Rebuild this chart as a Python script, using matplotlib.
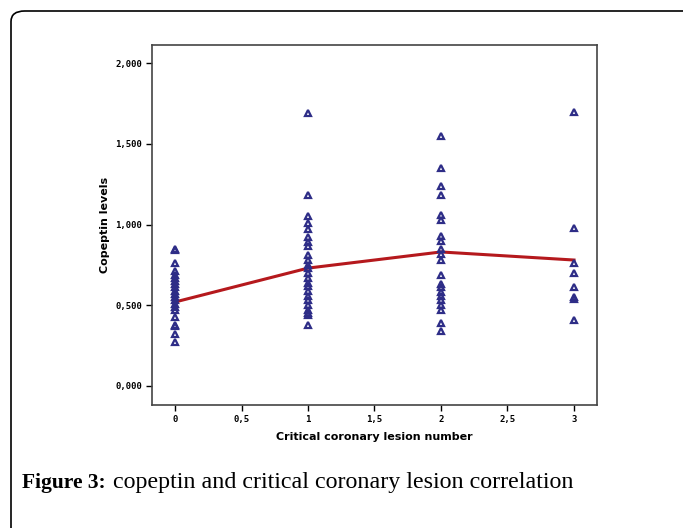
import matplotlib
matplotlib.use("Agg")
import matplotlib.pyplot as plt
from matplotlib.patches import FancyBboxPatch

lesion_numbers = [0, 1, 2, 3]
copeptin_0 = [0.85, 0.84, 0.76, 0.71, 0.69, 0.67, 0.65, 0.63, 0.61, 0.59, 0.57,
              0.55, 0.53, 0.51, 0.49, 0.47, 0.43, 0.38, 0.37, 0.32, 0.27]
copeptin_1 = [1.69, 1.18, 1.05, 1.01, 0.97, 0.92, 0.89, 0.87, 0.81, 0.78, 0.75,
              0.73, 0.70, 0.67, 0.64, 0.62, 0.59, 0.56, 0.53, 0.50, 0.47, 0.45,
              0.44, 0.38]
copeptin_2 = [1.55, 1.35, 1.24, 1.18, 1.06, 1.03, 0.93, 0.90, 0.85, 0.82, 0.78,
              0.69, 0.63, 0.61, 0.58, 0.56, 0.53, 0.50, 0.47, 0.39, 0.34]
copeptin_3 = [1.70, 0.98, 0.76, 0.70, 0.61, 0.55, 0.54, 0.41]
mean_line = [0.52, 0.73, 0.83, 0.78]

x_ticks = [0, 0.5, 1, 1.5, 2, 2.5, 3]
x_ticklabels = ["0", "0,5", "1", "1,5", "2", "2,5", "3"]
y_ticks = [0, 0.5, 1.0, 1.5, 2.0]
y_ticklabels = ["0,000", "0,500", "1,000", "1,500", "2,000"]

fig = plt.figure(figsize=(6.83, 5.28), dpi=100)
fig.patch.set_facecolor("white")

# outer rounded frame
W, H = 683, 528
frame = FancyBboxPatch((11 / W, -0.2), 1.2, 1.2 - 11 / H,
                       boxstyle="round,pad=0,rounding_size=0.02",
                       transform=fig.transFigure, facecolor="none",
                       edgecolor="black", linewidth=1.2)
fig.patches.append(frame)

ax = fig.add_axes([152 / W, 1 - 405 / H, (597 - 152) / W, (405 - 45) / H])

groups = [copeptin_0, copeptin_1, copeptin_2, copeptin_3]
for xv, vals in zip(lesion_numbers, groups):
    ax.plot([xv] * len(vals), vals, linestyle="none", marker="^",
            markersize=5, markerfacecolor="none", markeredgecolor="#2e2d87",
            markeredgewidth=1.6, zorder=3)

ax.plot(lesion_numbers, mean_line, color="#b5191d", linewidth=2.2, zorder=2)

ax.set_xlim(-0.173, 3.173)
ax.set_ylim(-0.118, 2.112)
ax.set_xticks(x_ticks)
ax.set_xticklabels(x_ticklabels, fontsize=6.5, fontweight="bold",
                   family="DejaVu Sans Mono")
ax.set_yticks(y_ticks)
ax.set_yticklabels(y_ticklabels, fontsize=6.5, fontweight="bold",
                   family="DejaVu Sans Mono")
ax.tick_params(direction="out", length=4, width=1, colors="black", pad=3)
for s in ax.spines.values():
    s.set_color("#444444")
    s.set_linewidth(1.2)

ax.set_xlabel("Critical coronary lesion number", fontsize=8, fontweight="bold",
              labelpad=6)
ax.set_ylabel("Copeptin levels", fontsize=8, fontweight="bold", labelpad=4)

fig.text(22 / W, 1 - 488 / H, "Figure 3:", fontsize=15.5, fontweight="bold",
         family="Liberation Serif", va="baseline", ha="left")
fig.text(113 / W, 1 - 488 / H, "copeptin and critical coronary lesion correlation",
         fontsize=17.3, family="Liberation Serif", va="baseline", ha="left")

fig.savefig("out.png", dpi=100, facecolor="white")
